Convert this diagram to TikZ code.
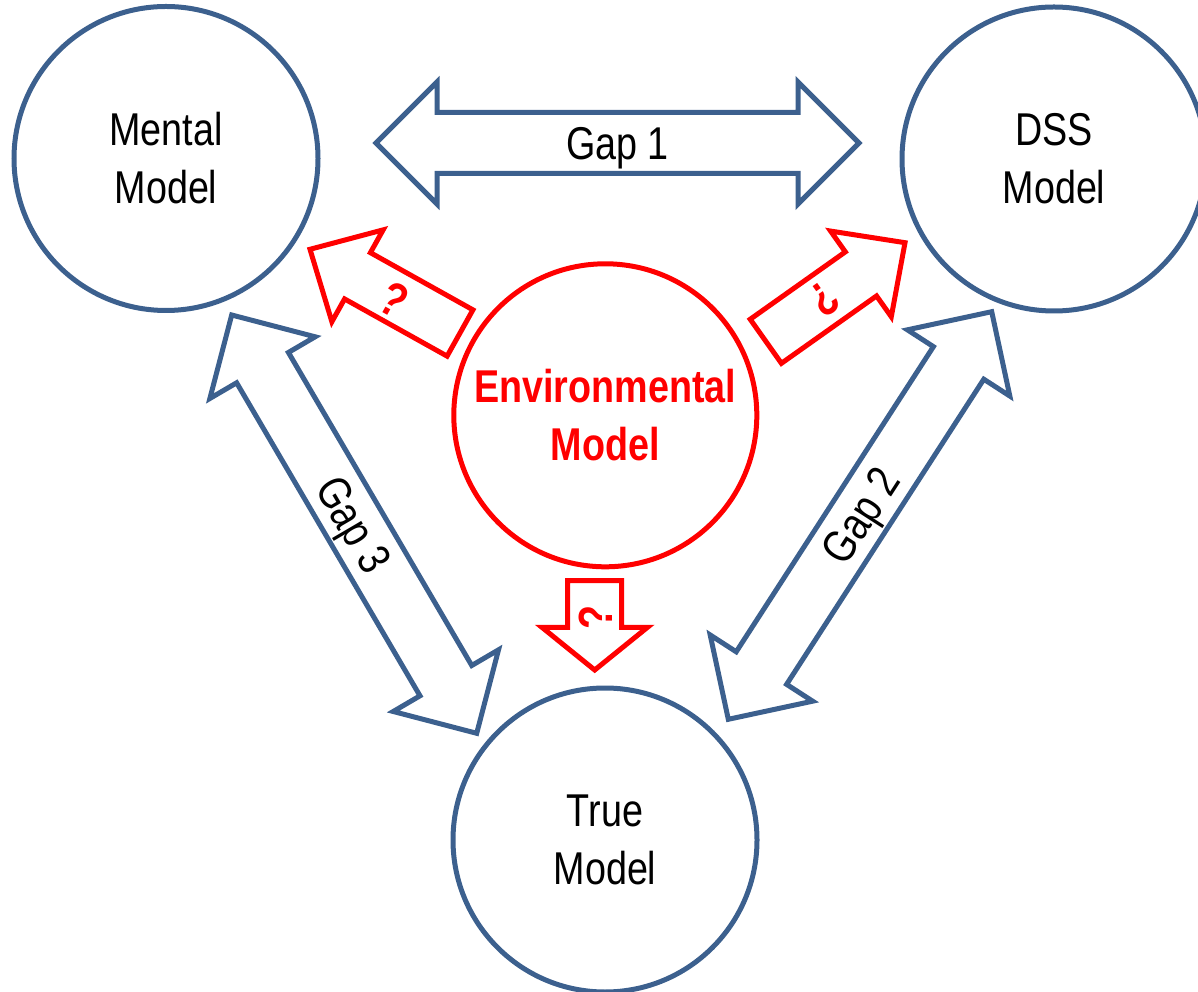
\documentclass[tikz,border=0pt]{standalone}
\usepackage{fontspec}
\setmainfont{Liberation Sans}[FakeStretch=0.82]
\usetikzlibrary{calc}

\definecolor{modelblue}{RGB}{60,96,142}
\definecolor{envred}{RGB}{255,0,0}

% Double-headed block arrow between two tips:
% #1 style, #2 tip A, #3 tip B, #4 head length, #5 head half width, #6 shaft half width
\newcommand\twoheadblock[6]{%
  \coordinate (hA) at ($(#2)!#4!(#3)$);
  \coordinate (hB) at ($(#3)!#4!(#2)$);
  \draw[#1] (#2) -- ($(hA)!#5!90:(#3)$) -- ($(hA)!#6!90:(#3)$)
    -- ($(hB)!#6!-90:(#2)$) -- ($(hB)!#5!-90:(#2)$) -- (#3)
    -- ($(hB)!#5!90:(#2)$) -- ($(hB)!#6!90:(#2)$)
    -- ($(hA)!#6!-90:(#3)$) -- ($(hA)!#5!-90:(#3)$) -- cycle;}

% Single-headed block arrow from tail to tip:
% #1 style, #2 tail, #3 tip, #4 head length, #5 head half width, #6 shaft half width
\newcommand\oneheadblock[6]{%
  \coordinate (hT) at ($(#3)!#4!(#2)$);
  \draw[#1] ($(#2)!#6!90:(#3)$) -- ($(hT)!#6!-90:(#2)$) -- ($(hT)!#5!-90:(#2)$)
    -- (#3) -- ($(hT)!#5!90:(#2)$) -- ($(hT)!#6!90:(#2)$)
    -- ($(#2)!#6!-90:(#3)$) -- cycle;}

\tikzset{
  model/.style={circle, draw=modelblue, line width=5pt, minimum size=304pt,
    inner sep=0pt, align=center, font=\fontsize{46}{58}\selectfont},
  envmodel/.style={circle, draw=envred, line width=5pt, minimum size=303pt,
    inner sep=0pt, align=center, text=envred,
    font=\fontsize{46}{58}\selectfont\bfseries},
  gaparrow/.style={draw=modelblue, line width=5pt, line join=miter},
  askarrow/.style={draw=envred, line width=5pt, line join=miter},
  gaplabel/.style={font=\fontsize{46}{58}\selectfont, inner sep=0pt,
    text height=33pt, text depth=0pt},
  asklabel/.style={font=\fontsize{48}{56}\selectfont\bfseries, text=envred,
    inner sep=0pt, text height=35pt, text depth=0pt},
}

\begin{document}
\begin{tikzpicture}[x=1pt,y=1pt]
  \useasboundingbox (0,0) rectangle (1198,991);

  % the four models
  \node[model] (mental) at (166,832.5) {Mental\\Model};
  \node[model] (dss) at (1054,832) {DSS\\Model};
  \node[model] (truem) at (605,151) {True\\Model};
  \node[envmodel] (env) at (605.3,575.7) {Environmental\\Model};

  % gap arrows
  \coordinate (g1a) at (376,848);   \coordinate (g1b) at (859,848);
  \coordinate (g3a) at (231.7,676); \coordinate (g3b) at (476.7,257.7);
  \coordinate (g2a) at (728.3,271.7); \coordinate (g2b) at (991.7,679.3);

  \twoheadblock{gaparrow}{g1a}{g1b}{61pt}{61pt}{30.5pt}
  \twoheadblock{gaparrow}{g3a}{g3b}{61pt}{61pt}{30pt}
  \twoheadblock{gaparrow}{g2a}{g2b}{61pt}{61pt}{30pt}

  \node[gaplabel] (gap1) at ($(g1a)!0.5!(g1b)$) {Gap 1};
  \node[gaplabel, rotate=-59.65] (gap3) at ($(g3a)!0.5!(g3b)$) {Gap 3};
  \node[gaplabel, rotate=57.13] (gap2) at ($(g2a)!0.5!(g2b)$) {Gap 2};

  % question arrows from the environmental model
  \coordinate (q1tail) at (460,658);     \coordinate (q1tip) at (310,741.7);
  \coordinate (q2tail) at (765.8,649.7); \coordinate (q2tip) at (905,748.3);
  \coordinate (q3tail) at (594.7,410.3); \coordinate (q3tip) at (594.7,321);

  \oneheadblock{askarrow}{q1tail}{q1tip}{54.4pt}{52.6pt}{26.5pt}
  \oneheadblock{askarrow}{q2tail}{q2tip}{54pt}{52.5pt}{27pt}
  \oneheadblock{askarrow}{q3tail}{q3tip}{42.7pt}{52.8pt}{27pt}

  \node[asklabel, rotate=-29.2] (ask1) at (395,692) {?};
  \node[asklabel, rotate=215.3] (ask2) at (825,691) {?};
  \node[asklabel, rotate=90] (ask3) at (595,374) {?};
\end{tikzpicture}
\end{document}
